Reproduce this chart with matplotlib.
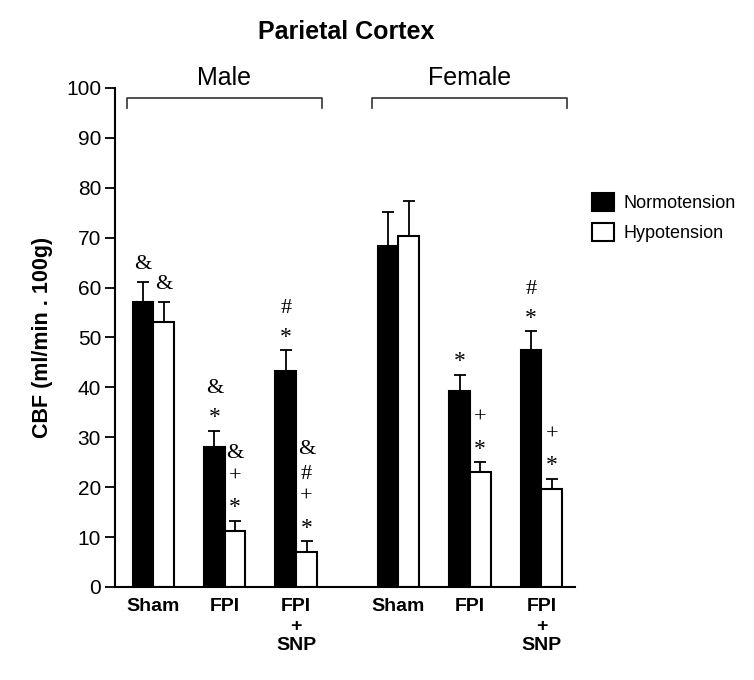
import numpy as np
import matplotlib
matplotlib.use("Agg")
import matplotlib.pyplot as plt

plt.rcParams['font.family'] = ['Liberation Sans', 'DejaVu Sans']

# data (CBF, ml/min . 100g)
groups = ["Sham", "FPI", "FPI\n+\nSNP", "Sham", "FPI", "FPI\n+\nSNP"]
normo = [57.2, 28.0, 43.3, 68.4, 39.2, 47.5]
normo_err = [4.0, 3.3, 4.1, 6.8, 3.3, 3.7]
hypo = [53.2, 11.2, 7.1, 70.3, 23.0, 19.6]
hypo_err = [4.0, 2.1, 2.1, 7.1, 2.0, 2.1]
# significance marks, listed bottom to top
normo_marks = ["&", "*&", "*#", "", "*", "*#"]
hypo_marks = ["&", "*+&", "*+#&", "", "*+", "*+"]
sexes = ["Male", "Female"]

x = np.array([0, 1, 2, 3.43, 4.43, 5.43])
w = 0.29

fig = plt.figure(figsize=(7.54, 6.8), dpi=100)
ax = fig.add_axes([0.1525, 0.1368, 0.610, 0.7338])

ax.bar(x - w / 2, normo, w, color="black", edgecolor="black", linewidth=1.5,
       label="Normotension")
ax.bar(x + w / 2, hypo, w, color="white", edgecolor="black", linewidth=1.5,
       label="Hypotension")
ax.errorbar(x - w / 2, normo, yerr=[np.zeros(6), normo_err], fmt="none",
            ecolor="black", elinewidth=1.3, capsize=4.5, capthick=1.3)
ax.errorbar(x + w / 2, hypo, yerr=[np.zeros(6), hypo_err], fmt="none",
            ecolor="black", elinewidth=1.3, capsize=4.5, capthick=1.3)

# significance symbols stacked above error bars
# (baseline shift so each glyph is visually centred on its slot)
shift = {"&": 1.5, "#": 1.5, "+": 1.1, "*": 2.5}
for xs, vals, errs, marks in [(x - w / 2, normo, normo_err, normo_marks),
                              (x + w / 2, hypo, hypo_err, hypo_marks)]:
    for xi, v, e, m in zip(xs, vals, errs, marks):
        for k, ch in enumerate(m):
            y = v + e + 4.0 + 5.0 * k
            ax.text(xi, y - shift[ch], ch, ha="center", va="baseline",
                    fontsize=17 if ch == "*" else 16,
                    family=["Liberation Serif"])

# Male / Female brackets
for i, name in enumerate(sexes):
    x0 = x[3 * i] - 0.37
    x1 = x[3 * i + 2] + 0.36
    ax.plot([x0, x0, x1, x1], [95.9, 97.9, 97.9, 95.9], color="#333333",
            lw=1.2, clip_on=False)
    ax.text((x0 + x1) / 2, 102, name, ha="center", va="center", fontsize=18,
            clip_on=False)

ax.set_xlim(-0.536, 5.90)
ax.set_ylim(0, 100)
ax.set_yticks(np.arange(0, 101, 10))
ax.tick_params(axis="y", length=7, width=1.3, labelsize=15, pad=3)
ax.set_xticks(x)
ax.set_xticklabels(groups, fontsize=14, fontweight="bold", linespacing=1.2)
ax.tick_params(axis="x", length=0, pad=8)
for s in ["top", "right"]:
    ax.spines[s].set_visible(False)
for s in ["left", "bottom"]:
    ax.spines[s].set_linewidth(1.5)

ax.set_ylabel("CBF (ml/min . 100g)", fontsize=15.5, fontweight="bold",
              labelpad=9)

fig.text(346 / 754, 1 - 32 / 680, "Parietal Cortex", ha="center", va="center",
         fontsize=18, fontweight="bold")

ax.legend(loc="upper left", bbox_to_anchor=(0.785, 0.7166),
          bbox_transform=fig.transFigure, frameon=False, fontsize=13,
          handlelength=1.2, handleheight=1.2, handletextpad=0.55,
          labelspacing=0.6, borderpad=0, borderaxespad=0)

fig.savefig("out.png", dpi=100)
